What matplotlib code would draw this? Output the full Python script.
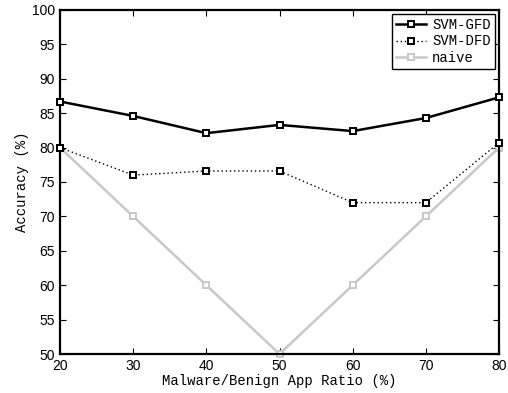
import matplotlib

matplotlib.use("Agg")

import matplotlib.pyplot as plt  # noqa: E402

# Accuracy (%) per malware/benign ratio
ratios = [20, 30, 40, 50, 60, 70, 80]
svm_gfd = [86.7, 84.6, 82.1, 83.3, 82.4, 84.3, 87.3]
svm_dfd = [80.0, 76.0, 76.6, 76.6, 72.0, 72.0, 80.7]
naive = [80, 70, 60, 50, 60, 70, 80]

yticks = list(range(50, 101, 5))

mono = "Liberation Mono"
sans = "Liberation Sans"

fig = plt.figure(figsize=(5.08, 3.93), dpi=100)
ax = fig.add_axes([60 / 508, 39 / 393, 439 / 508, 344 / 393])

mk = dict(marker="s", ms=5, mfc="white", mew=1.4, clip_on=False)
ax.plot(ratios, svm_gfd, color="black", lw=1.8, mec="black",
        label="SVM-GFD", zorder=3, **mk)
ax.plot(ratios, svm_dfd, color="black", lw=1.0, ls=(0, (1, 2)), mec="black",
        label="SVM-DFD", zorder=3, **mk)
ax.plot(ratios, naive, color="#c8c8c8", lw=1.8, mec="#c8c8c8",
        label="naive", zorder=2, **mk)

ax.set_xlim(20, 80)
ax.set_ylim(50, 100)
ax.set_xticks(ratios)
ax.set_yticks(yticks)
ax.tick_params(direction="in", top=True, right=True, length=4, width=0.8,
               labelsize=10)
for lbl in ax.get_xticklabels() + ax.get_yticklabels():
    lbl.set_family(sans)
for s in ax.spines.values():
    s.set_linewidth(1.6)

ax.set_xlabel("Malware/Benign App Ratio (%)", family=mono, fontsize=10,
              labelpad=1)
ax.set_ylabel("Accuracy (%)", family=mono, fontsize=10, labelpad=2)

leg = ax.legend(loc="upper right", prop={"family": mono, "size": 10},
                fancybox=False, edgecolor="black", framealpha=1,
                handlelength=2.2, borderpad=0.3, labelspacing=0.15,
                handletextpad=0.4, borderaxespad=0.3)
leg.get_frame().set_linewidth(1.0)

fig.savefig("out.png", dpi=100)
